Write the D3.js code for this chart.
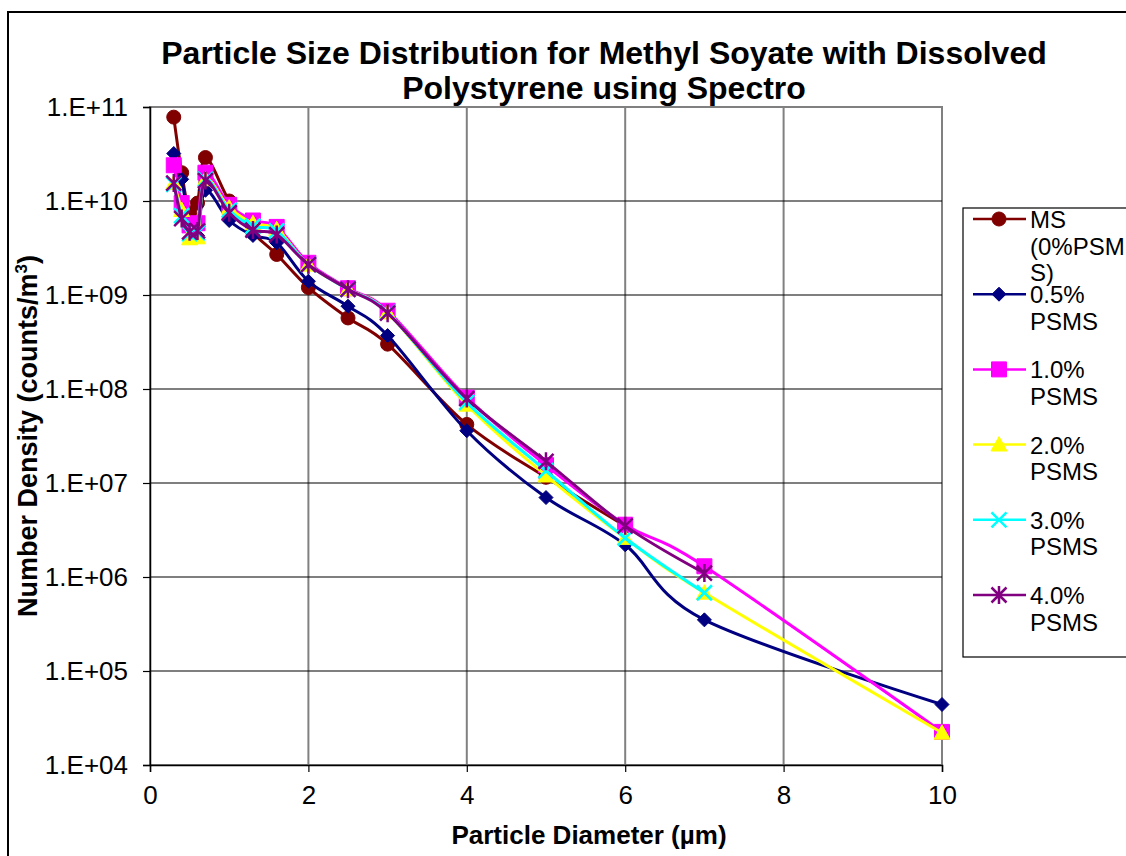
<!DOCTYPE html>
<html>
<head>
<meta charset="utf-8">
<script src="https://cdn.jsdelivr.net/npm/d3@7"></script>
<style>
  html, body { margin: 0; padding: 0; background: #fff; overflow: hidden; }
  svg { display: block; font-family: Arial, "Liberation Sans", sans-serif; }
</style>
</head>
<body>
<svg id="chart" width="1126" height="856"></svg>
<script>
// Particle diameters (µm) shared by all series
const diameters = [0.3, 0.4, 0.5, 0.6, 0.7, 1.0, 1.3, 1.6, 2, 2.5, 3, 4, 5, 6, 7, 10];

// Number density (counts/m³) per series, in diameter order
const ms0    = [7.8e10, 2.0e10, 7.5e9, 9.5e9, 2.9e10, 1.0e10, 4.6e9, 2.7e9, 1.2e9, 5.7e8, 3.0e8, 4.2e7, 1.15e7, 3.5e6];
const psms05 = [3.2e10, 1.7e10, 5.5e9, 4.3e9, 1.3e10, 6.2e9, 4.3e9, 3.6e9, 1.4e9, 7.6e8, 3.7e8, 3.6e7, 7.0e6, 2.2e6, 3.5e5, 4.4e4];
const psms10 = [2.4e10, 9.5e9, 5.5e9, 5.8e9, 2.0e10, 9.1e9, 6.2e9, 5.3e9, 2.2e9, 1.18e9, 6.8e8, 8.1e7, 1.55e7, 3.6e6, 1.3e6, 2.25e4];
const psms20 = [1.55e10, 8.0e9, 4.0e9, 4.1e9, 1.7e10, 8.5e9, 5.8e9, 5.0e9, 2.1e9, 1.15e9, 6.5e8, 6.8e7, 1.2e7, 2.6e6, 6.8e5, 2.2e4];
const psms30 = [1.5e10, 7.0e9, 4.5e9, 4.6e9, 1.7e10, 8.0e9, 5.4e9, 4.8e9, 2.1e9, 1.15e9, 6.5e8, 7.2e7, 1.35e7, 2.6e6, 6.8e5];
const psms40 = [1.55e10, 6.5e9, 4.7e9, 4.8e9, 1.65e10, 7.5e9, 4.9e9, 4.4e9, 2.1e9, 1.15e9, 6.4e8, 7.9e7, 1.7e7, 3.5e6, 1.1e6];

const seriesLabels = [["MS", "(0%PSM", "S)"], ["0.5%", "PSMS"], ["1.0%", "PSMS"], ["2.0%", "PSMS"], ["3.0%", "PSMS"], ["4.0%", "PSMS"]];
const seriesValues = [ms0, psms05, psms10, psms20, psms30, psms40];
const seriesColors = ["#800000", "#000080", "#FF00FF", "#FFFF00", "#00FFFF", "#800080"];
const seriesMarkers = ["circle", "diamond", "square", "triangle", "x", "star"];

const xTicks = [0, 2, 4, 6, 8, 10];
const yTicks = [1e4, 1e5, 1e6, 1e7, 1e8, 1e9, 1e10, 1e11];

const titleLines = ["Particle Size Distribution for Methyl Soyate with Dissolved", "Polystyrene using Spectro"];
const xTitle = "Particle Diameter (µm)";
const yTitle = "Number Density (counts/m";

// ---- layout ----
const plot = { left: 150, right: 942, top: 107, bottom: 765 };
const svg = d3.select("#chart");

const x = d3.scaleLinear().domain([0, 10]).range([plot.left, plot.right]);
const y = d3.scaleLog().domain([1e4, 1e11]).range([plot.bottom, plot.top]);

// outer chart frame
svg.append("rect").attr("x", 8).attr("y", 12).attr("width", 1200).attr("height", 900)
  .attr("fill", "#fff").attr("stroke", "#000").attr("stroke-width", 2);

// plot area
svg.append("rect").attr("x", plot.left).attr("y", plot.top)
  .attr("width", plot.right - plot.left).attr("height", plot.bottom - plot.top)
  .attr("fill", "#fff").attr("stroke", "#808080").attr("stroke-width", 2);

// vertical gridlines
svg.append("g").selectAll("line").data(xTicks.filter(d => d > 0)).join("line")
  .attr("x1", d => x(d)).attr("x2", d => x(d))
  .attr("y1", plot.top).attr("y2", plot.bottom)
  .attr("stroke", "#808080").attr("stroke-width", 2);

// horizontal gridlines
svg.append("g").selectAll("line").data(yTicks.filter(d => d > 1e4 && d < 1e11)).join("line")
  .attr("x1", plot.left).attr("x2", plot.right)
  .attr("y1", d => y(d)).attr("y2", d => y(d))
  .attr("stroke", "#000").attr("stroke-width", 1.2);

// axes
const fmtExp = d => "1.E+" + String(Math.round(Math.log10(d))).padStart(2, "0");

const yAxis = svg.append("g").attr("transform", `translate(${plot.left},0)`)
  .call(d3.axisLeft(y).tickValues(yTicks).tickFormat(fmtExp).tickSize(7).tickPadding(15));
const xAxis = svg.append("g").attr("transform", `translate(0,${plot.bottom})`)
  .call(d3.axisBottom(x).tickValues(xTicks).tickFormat(d3.format("d")).tickSize(7).tickPadding(14));

[yAxis, xAxis].forEach(g => {
  g.select(".domain").attr("stroke", "#000").attr("stroke-width", 1.5);
  g.selectAll(".tick line").attr("stroke", "#000").attr("stroke-width", 1.2);
  g.selectAll(".tick text").attr("fill", "#000").style("font-size", "26px")
    .style("font-family", "Arial, 'Liberation Sans', sans-serif");
});

// series lines
const line = d3.line()
  .x(d => x(d[0])).y(d => y(d[1]))
  .curve(d3.curveCardinal.tension(0));

function markerPath(type, s) {
  const h = s / 2;
  switch (type) {
    case "circle": return d3.symbol(d3.symbolCircle, Math.PI * h * h)();
    case "diamond": return `M0,${-h}L${h},0L0,${h}L${-h},0Z`;
    case "square": return `M${-h},${-h}H${h}V${h}H${-h}Z`;
    case "triangle": return `M0,${-h}L${h},${h * 0.8}L${-h},${h * 0.8}Z`;
    case "x": return `M${-h},${-h}L${h},${h}M${h},${-h}L${-h},${h}`;
    case "star": return `M${-h},${-h}L${h},${h}M${h},${-h}L${-h},${h}M0,${-h * 1.2}V${h * 1.2}`;
  }
}
const markerSize = [14, 14, 15, 16, 15, 15];

seriesValues.forEach((vals, i) => {
  const pts = vals.map((v, j) => [diameters[j], v]);
  const g = svg.append("g");
  g.append("path").attr("d", line(pts))
    .attr("fill", "none").attr("stroke", seriesColors[i]).attr("stroke-width", 3)
    .attr("stroke-linejoin", "round");
  const open = seriesMarkers[i] === "x" || seriesMarkers[i] === "star";
  g.selectAll("path.m").data(pts).join("path").attr("class", "m")
    .attr("transform", d => `translate(${x(d[0])},${y(d[1])})`)
    .attr("d", markerPath(seriesMarkers[i], markerSize[i]))
    .attr("fill", open ? "none" : seriesColors[i])
    .attr("stroke", seriesColors[i]).attr("stroke-width", open ? 2.5 : 1);
});

// title
svg.append("text").attr("x", 604).attr("text-anchor", "middle")
  .style("font-size", "32px").style("font-weight", "bold")
  .selectAll("tspan").data(titleLines).join("tspan")
  .attr("x", 604).attr("y", (d, i) => 64 + i * 35).text(d => d);

// axis titles
svg.append("text").attr("x", 589).attr("y", 844).attr("text-anchor", "middle")
  .style("font-size", "26px").style("font-weight", "bold").text(xTitle);

const yt = svg.append("text").attr("transform", "translate(37,436) rotate(-90)")
  .attr("text-anchor", "middle").style("font-size", "27px").style("font-weight", "bold");
yt.append("tspan").text(yTitle);
yt.append("tspan").attr("dy", -10).style("font-size", "17px").text("3");
yt.append("tspan").attr("dy", 10).text(")");

// legend
const lg = svg.append("g");
lg.append("rect").attr("x", 963).attr("y", 208).attr("width", 300).attr("height", 449)
  .attr("fill", "#fff").attr("stroke", "#000").attr("stroke-width", 1.2);
seriesLabels.forEach((lines, i) => {
  const cy = 219 + i * 75.2;
  lg.append("line").attr("x1", 973).attr("x2", 1026).attr("y1", cy).attr("y2", cy)
    .attr("stroke", seriesColors[i]).attr("stroke-width", 2.5);
  const open = seriesMarkers[i] === "x" || seriesMarkers[i] === "star";
  lg.append("path").attr("transform", `translate(999,${cy})`)
    .attr("d", markerPath(seriesMarkers[i], markerSize[i]))
    .attr("fill", open ? "none" : seriesColors[i])
    .attr("stroke", seriesColors[i]).attr("stroke-width", open ? 2.5 : 1);
  lg.append("text").style("font-size", "24px")
    .selectAll("tspan").data(lines).join("tspan")
    .attr("x", 1030).attr("y", (d, k) => cy + 9 + k * 26.5).text(d => d);
});
</script>
</body>
</html>
